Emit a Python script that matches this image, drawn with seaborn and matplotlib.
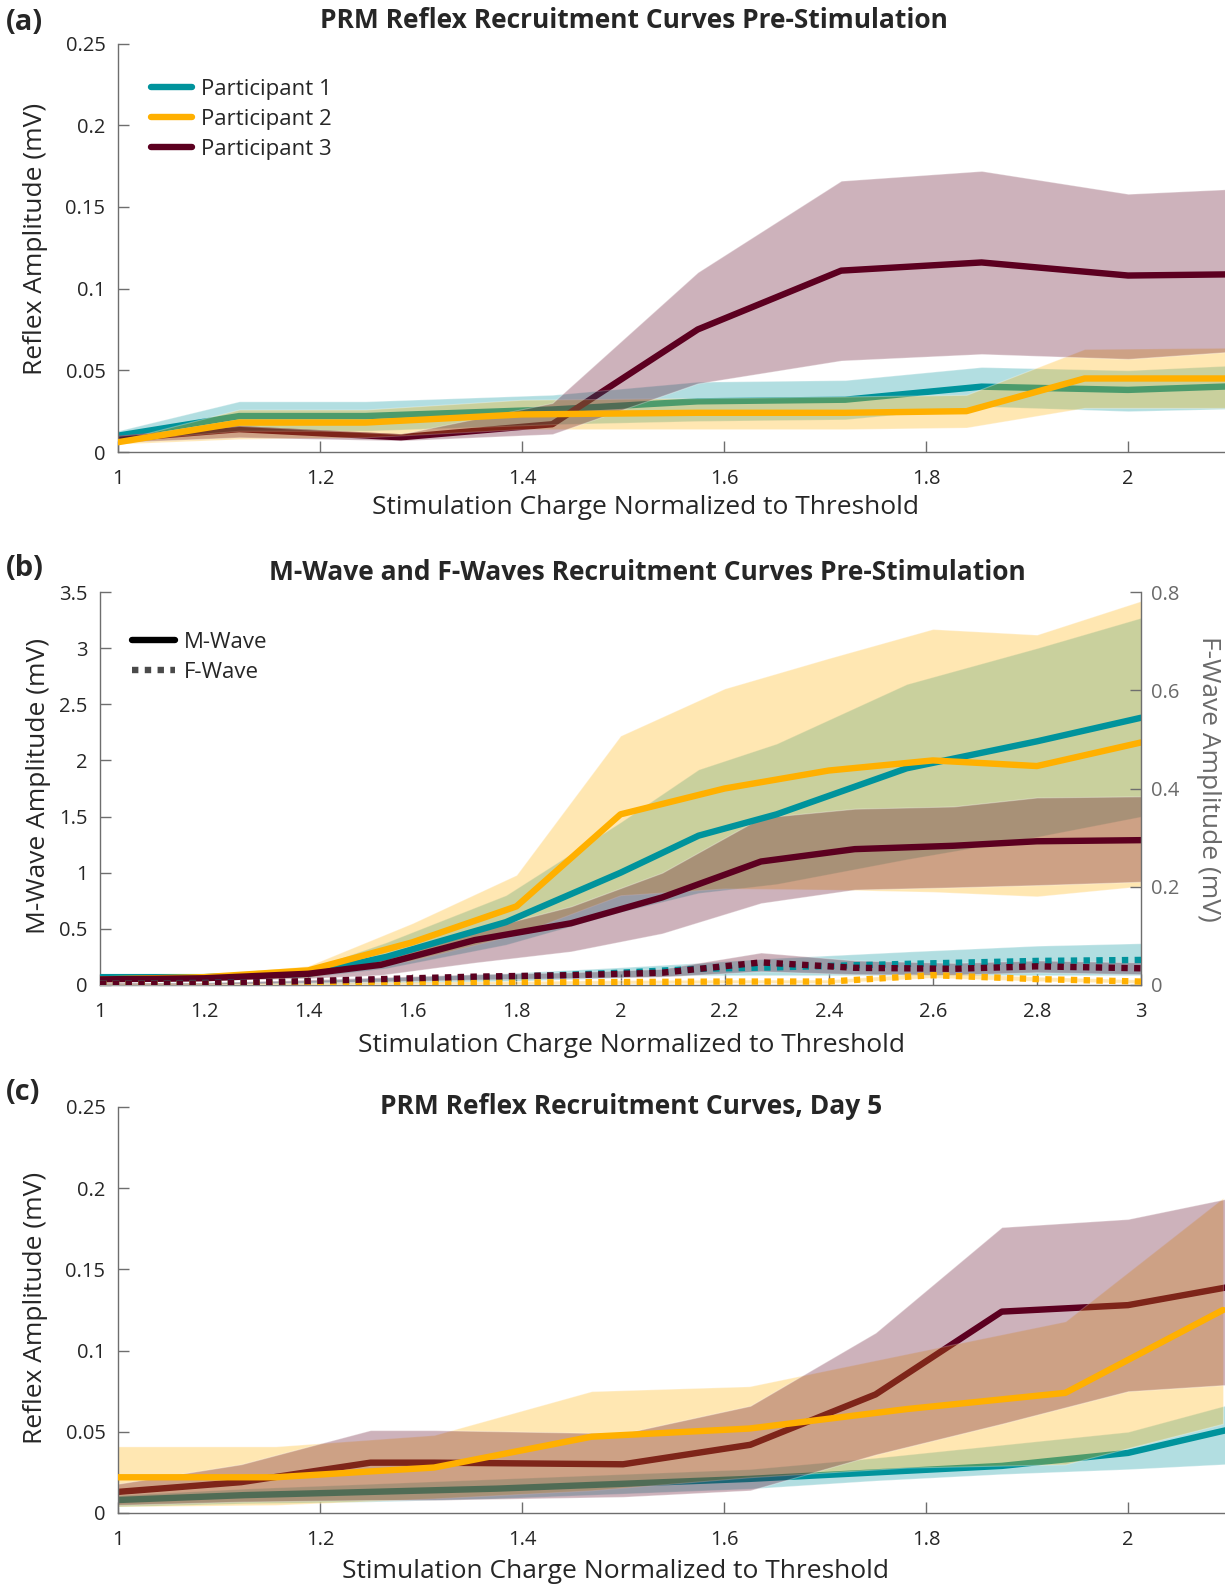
import matplotlib
matplotlib.use('Agg')
import matplotlib.pyplot as plt
import seaborn as sns
from matplotlib.lines import Line2D

# --- colours / names ---
TEAL, GOLD, MAROON = '#00939C', '#FFB000', '#5C0020'
names = ['Participant 1', 'Participant 2', 'Participant 3']

# --- (a) PRM reflex, pre-stimulation (mV) ---
a_x1 = [1.0, 1.12, 1.245, 1.43, 1.574, 1.72, 1.855, 2.0, 2.14]
a_y1 = [0.010, 0.022, 0.022, 0.026, 0.031, 0.032, 0.040, 0.038, 0.041]
a_hi1 = [0.013, 0.031, 0.031, 0.035, 0.043, 0.044, 0.052, 0.050, 0.054]
a_lo1 = [0.007, 0.013, 0.013, 0.017, 0.019, 0.020, 0.028, 0.025, 0.027]

a_x2 = [1.0, 1.12, 1.245, 1.40, 1.574, 1.72, 1.84, 1.957, 2.14]
a_y2 = [0.006, 0.018, 0.018, 0.023, 0.024, 0.024, 0.025, 0.045, 0.045]
a_hi2 = [0.007, 0.026, 0.026, 0.032, 0.033, 0.034, 0.035, 0.063, 0.064]
a_lo2 = [0.005, 0.008, 0.009, 0.014, 0.014, 0.014, 0.015, 0.027, 0.027]

a_x3 = [1.0, 1.12, 1.28, 1.43, 1.574, 1.716, 1.855, 2.0, 2.14]
a_y3 = [0.008, 0.014, 0.009, 0.017, 0.075, 0.111, 0.116, 0.108, 0.109]
a_hi3 = [0.010, 0.016, 0.011, 0.030, 0.110, 0.166, 0.172, 0.158, 0.162]
a_lo3 = [0.006, 0.009, 0.007, 0.011, 0.042, 0.056, 0.060, 0.057, 0.063]

# --- (b) M-wave (left axis) and F-wave (right axis), mV ---
b_x1 = [1.0, 1.2, 1.4, 1.55, 1.78, 2.0, 2.15, 2.3, 2.55, 2.8, 3.0]
b_m1 = [0.07, 0.07, 0.10, 0.25, 0.56, 1.00, 1.33, 1.52, 1.93, 2.17, 2.38]
b_mhi1 = [0.09, 0.09, 0.14, 0.38, 0.80, 1.45, 1.92, 2.15, 2.68, 3.00, 3.27]
b_mlo1 = [0.05, 0.05, 0.07, 0.15, 0.36, 0.65, 0.82, 0.90, 1.12, 1.32, 1.50]
b_f1 = [0.003, 0.004, 0.006, 0.010, 0.016, 0.025, 0.033, 0.036, 0.043, 0.049, 0.051]
b_fhi1 = [0.005, 0.006, 0.009, 0.015, 0.024, 0.036, 0.045, 0.055, 0.068, 0.080, 0.085]
b_flo1 = [0.001, 0.002, 0.003, 0.005, 0.008, 0.015, 0.020, 0.020, 0.020, 0.020, 0.020]

b_x2 = [1.0, 1.2, 1.4, 1.6, 1.8, 2.0, 2.2, 2.4, 2.6, 2.8, 3.0]
b_m2 = [0.05, 0.07, 0.13, 0.38, 0.70, 1.52, 1.75, 1.91, 2.00, 1.95, 2.16]
b_mhi2 = [0.08, 0.09, 0.17, 0.55, 0.98, 2.22, 2.64, 2.91, 3.17, 3.12, 3.42]
b_mlo2 = [0.03, 0.04, 0.07, 0.22, 0.45, 0.80, 0.86, 0.85, 0.83, 0.79, 0.88]
b_f2 = [0.002, 0.002, 0.003, 0.004, 0.005, 0.006, 0.007, 0.007, 0.020, 0.012, 0.007]
b_fhi2 = [0.004, 0.004, 0.005, 0.007, 0.008, 0.010, 0.011, 0.011, 0.025, 0.017, 0.011]
b_flo2 = [0.001, 0.001, 0.001, 0.002, 0.002, 0.003, 0.004, 0.004, 0.015, 0.008, 0.004]

b_x3 = [1.0, 1.2, 1.4, 1.54, 1.72, 1.905, 2.08, 2.27, 2.45, 2.64, 2.8, 3.0]
b_m3 = [0.05, 0.06, 0.10, 0.18, 0.40, 0.55, 0.78, 1.10, 1.21, 1.24, 1.28, 1.29]
b_mhi3 = [0.06, 0.07, 0.12, 0.24, 0.48, 0.70, 1.00, 1.49, 1.57, 1.59, 1.67, 1.68]
b_mlo3 = [0.04, 0.04, 0.06, 0.09, 0.20, 0.30, 0.46, 0.73, 0.85, 0.87, 0.89, 0.92]
b_f3 = [0.003, 0.003, 0.008, 0.012, 0.017, 0.020, 0.025, 0.046, 0.035, 0.033, 0.038, 0.034]
b_fhi3 = [0.005, 0.005, 0.011, 0.016, 0.022, 0.026, 0.033, 0.066, 0.050, 0.045, 0.050, 0.046]
b_flo3 = [0.001, 0.001, 0.005, 0.007, 0.011, 0.014, 0.017, 0.028, 0.022, 0.021, 0.026, 0.022]

# --- (c) PRM reflex, day 5 (mV) ---
c_x1 = [1.0, 1.125, 1.25, 1.375, 1.5, 1.625, 1.75, 1.875, 2.0, 2.125]
c_y1 = [0.008, 0.011, 0.013, 0.015, 0.018, 0.021, 0.025, 0.029, 0.037, 0.055]
c_hi1 = [0.011, 0.015, 0.018, 0.021, 0.024, 0.027, 0.034, 0.042, 0.050, 0.071]
c_lo1 = [0.004, 0.006, 0.007, 0.009, 0.012, 0.015, 0.020, 0.024, 0.027, 0.031]

c_x2 = [1.0, 1.156, 1.313, 1.469, 1.625, 1.781, 1.938, 2.094]
c_y2 = [0.022, 0.022, 0.028, 0.047, 0.052, 0.064, 0.074, 0.125]
c_hi2 = [0.041, 0.041, 0.048, 0.075, 0.078, 0.098, 0.118, 0.194]
c_lo2 = [0.004, 0.005, 0.009, 0.014, 0.022, 0.028, 0.030, 0.055]

c_x3 = [1.0, 1.122, 1.25, 1.313, 1.5, 1.626, 1.75, 1.875, 2.0, 2.125]
c_y3 = [0.013, 0.019, 0.031, 0.031, 0.030, 0.042, 0.073, 0.124, 0.128, 0.142]
c_hi3 = [0.018, 0.030, 0.051, 0.051, 0.049, 0.066, 0.111, 0.176, 0.181, 0.197]
c_lo3 = [0.005, 0.007, 0.008, 0.008, 0.010, 0.014, 0.036, 0.055, 0.075, 0.080]

sns.set_style('ticks')
plt.rcParams['font.family'] = ['Open Sans', 'DejaVu Sans']

W, H = 1225, 1585
fig = plt.figure(figsize=(W / 100, H / 100), dpi=100)
TXT = '#262626'
SPINE = '#6e6e6e'
GREY_R = '#6a6a6a'
TICK_FS = 14.5
LAB_FS = 19
TITLE_FS = 19
LEG_FS = 16


def add_ax(left, top, right, bottom):
    return fig.add_axes([left / W, 1 - bottom / H, (right - left) / W, (bottom - top) / H])


def ftext(x, y, s, **kw):
    fig.text(x / W, 1 - y / H, s, color=kw.pop('color', TXT), **kw)


def band(ax, x, lo, hi, color, z=2):
    ax.fill_between(x, lo, hi, facecolor=color, alpha=0.3, edgecolor='white',
                    lw=0.8, zorder=z)


def line(ax, x, y, color, z=3, ls='-'):
    sns.lineplot(x=x, y=y, ax=ax, color=color, lw=4.6, zorder=z, linestyle=ls,
                 estimator=None, sort=False, dash_capstyle='butt')


def style(ax, right=False):
    ax.spines['top'].set_visible(False)
    ax.spines['right'].set_visible(right)
    for s in ax.spines.values():
        s.set_color(SPINE)
        s.set_linewidth(1)
    ax.tick_params(direction='in', length=8, width=1, color=SPINE, labelcolor=TXT,
                   labelsize=TICK_FS, pad=9)
    ax.tick_params(axis='x', pad=12)
    ax.set_xlabel('')
    ax.set_ylabel('')


# ---------- (a) ----------
ax_a = add_ax(118, 43.5, 1225, 452)
line(ax_a, a_x1, a_y1, TEAL, z=1)
line(ax_a, a_x3, a_y3, MAROON, z=1)
band(ax_a, a_x1, a_lo1, a_hi1, TEAL)
band(ax_a, a_x2, a_lo2, a_hi2, GOLD)
band(ax_a, a_x3, a_lo3, a_hi3, MAROON)
line(ax_a, a_x2, a_y2, GOLD, z=3)
ax_a.set_xlim(1, 2.096)
ax_a.set_ylim(0, 0.25)
ax_a.set_xticks([1, 1.2, 1.4, 1.6, 1.8, 2])
ax_a.set_xticklabels(['1', '1.2', '1.4', '1.6', '1.8', '2'])
ax_a.set_yticks([0, 0.05, 0.1, 0.15, 0.2, 0.25])
ax_a.set_yticklabels(['0', '0.05', '0.1', '0.15', '0.2', '0.25'])
style(ax_a)
handles = [Line2D([], [], color=c, lw=4.6) for c in (TEAL, GOLD, MAROON)]
ax_a.legend(handles, names, loc='upper left', bbox_to_anchor=(151 / W, 1 - 79 / H),
            bbox_transform=fig.transFigure, frameon=False, fontsize=LEG_FS,
            handlelength=1.85, handletextpad=0.4, labelspacing=0.4, labelcolor=TXT,
            borderaxespad=0, borderpad=0)

# ---------- (b) ----------
ax_b = add_ax(100, 592, 1141, 985)
ax_f = ax_b.twinx()
band(ax_b, b_x1, b_mlo1, b_mhi1, TEAL)
band(ax_b, b_x2, b_mlo2, b_mhi2, GOLD)
band(ax_b, b_x3, b_mlo3, b_mhi3, MAROON)
line(ax_b, b_x1, b_m1, TEAL)
line(ax_b, b_x2, b_m2, GOLD)
line(ax_b, b_x3, b_m3, MAROON)
band(ax_f, b_x1, b_flo1, b_fhi1, TEAL)
band(ax_f, b_x2, b_flo2, b_fhi2, GOLD)
band(ax_f, b_x3, b_flo3, b_fhi3, MAROON)
dot = (0, (1, 1))
line(ax_f, b_x1, b_f1, TEAL, ls=dot)
line(ax_f, b_x2, b_f2, GOLD, ls=dot)
line(ax_f, b_x3, b_f3, MAROON, ls=dot)
ax_b.set_xlim(1, 3)
ax_b.set_ylim(0, 3.5)
ax_f.set_ylim(0, 0.8)
ax_b.set_xticks([1, 1.2, 1.4, 1.6, 1.8, 2, 2.2, 2.4, 2.6, 2.8, 3])
ax_b.set_xticklabels(['1', '1.2', '1.4', '1.6', '1.8', '2', '2.2', '2.4', '2.6', '2.8', '3'])
ax_b.set_yticks([0, 0.5, 1, 1.5, 2, 2.5, 3, 3.5])
ax_b.set_yticklabels(['0', '0.5', '1', '1.5', '2', '2.5', '3', '3.5'])
ax_f.set_yticks([0, 0.2, 0.4, 0.6, 0.8])
ax_f.set_yticklabels(['0', '0.2', '0.4', '0.6', '0.8'])
style(ax_b)
style(ax_f, right=True)
ax_f.spines['left'].set_visible(False)
ax_f.spines['bottom'].set_visible(False)
ax_f.tick_params(axis='y', labelcolor=GREY_R, pad=7)
mf = [Line2D([], [], color='black', lw=4.6),
      Line2D([], [], color='#4a4a4a', lw=4.6, linestyle=dot, dash_capstyle='butt')]
ax_f.legend(mf, ['M-Wave', 'F-Wave'], loc='upper left', bbox_to_anchor=(132 / W, 1 - 632 / H),
            bbox_transform=fig.transFigure, frameon=False, fontsize=LEG_FS,
            handlelength=1.95, handletextpad=0.4, labelspacing=0.4, labelcolor=TXT,
            borderaxespad=0, borderpad=0)

# ---------- (c) ----------
ax_c = add_ax(118, 1107, 1225, 1513)
line(ax_c, c_x1, c_y1, TEAL, z=1)
line(ax_c, c_x3, c_y3, MAROON, z=1)
band(ax_c, c_x1, c_lo1, c_hi1, TEAL)
band(ax_c, c_x2, c_lo2, c_hi2, GOLD)
band(ax_c, c_x3, c_lo3, c_hi3, MAROON)
line(ax_c, c_x2, c_y2, GOLD, z=3)
ax_c.set_xlim(1, 2.096)
ax_c.set_ylim(0, 0.25)
ax_c.set_xticks([1, 1.2, 1.4, 1.6, 1.8, 2])
ax_c.set_xticklabels(['1', '1.2', '1.4', '1.6', '1.8', '2'])
ax_c.set_yticks([0, 0.05, 0.1, 0.15, 0.2, 0.25])
ax_c.set_yticklabels(['0', '0.05', '0.1', '0.15', '0.2', '0.25'])
style(ax_c)

# ---------- text ----------
xlab = 'Stimulation Charge Normalized to Threshold'
ftext(6, 23, '(a)', fontsize=21, fontweight='bold', va='center')
ftext(634, 21, 'PRM Reflex Recruitment Curves Pre-Stimulation', fontsize=TITLE_FS,
      fontweight='bold', ha='center', va='center')
ftext(645, 507, xlab, fontsize=LAB_FS, ha='center', va='center')
ftext(36, 239, 'Reflex Amplitude (mV)', fontsize=LAB_FS, rotation=90, ha='center', va='center')

ftext(6, 569, '(b)', fontsize=21, fontweight='bold', va='center')
ftext(647, 572, 'M-Wave and F-Waves Recruitment Curves Pre-Stimulation', fontsize=TITLE_FS,
      fontweight='bold', ha='center', va='center')
ftext(631, 1046, xlab, fontsize=LAB_FS, ha='center', va='center')
ftext(39, 786, 'M-Wave Amplitude (mV)', fontsize=LAB_FS, rotation=90, ha='center', va='center')
ftext(1209, 779, 'F-Wave Amplitude (mV)', fontsize=LAB_FS, rotation=-90, ha='center',
      va='center', color=GREY_R)

ftext(6, 1093, '(c)', fontsize=21, fontweight='bold', va='center')
ftext(631, 1106, 'PRM Reflex Recruitment Curves, Day 5', fontsize=TITLE_FS,
      fontweight='bold', ha='center', va='center')
ftext(616, 1572, xlab, fontsize=LAB_FS, ha='center', va='center')
ftext(36, 1308, 'Reflex Amplitude (mV)', fontsize=LAB_FS, rotation=90, ha='center', va='center')

fig.savefig('out.png', dpi=100)
